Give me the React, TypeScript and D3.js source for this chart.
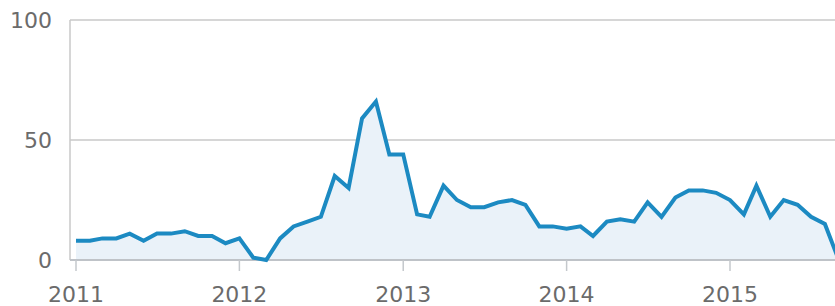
import React from 'react';
import * as d3 from 'd3';

// monthly interest, Jan 2011 .. Sep 2015
const startMonth = new Date(2011, 0, 1);
const values2011 = [8, 8, 9, 9, 11, 8, 11, 11, 12, 10, 10, 7];
const values2012 = [9, 1, 0, 9, 14, 16, 18, 35, 30, 59, 66, 44];
const values2013 = [44, 19, 18, 31, 25, 22, 22, 24, 25, 23, 14, 14];
const values2014 = [13, 14, 10, 16, 17, 16, 24, 18, 26, 29, 29, 28];
const values2015 = [25, 19, 31, 18, 25, 23, 18, 15, 0];

const yTicks = [0, 50, 100];
const yearTicks = [2011, 2012, 2013, 2014, 2015];

const series = [...values2011, ...values2012, ...values2013, ...values2014, ...values2015];
const points = series.map((v, i) => ({
  date: new Date(startMonth.getFullYear(), startMonth.getMonth() + i, 1),
  value: v,
}));

const W = 835;
const H = 306;
const left = 70;
const font = '"DejaVu Sans", Verdana, sans-serif';

const App = () => {
  const x = d3.scaleTime()
    .domain([new Date(2011, 0, 1), new Date(2015, 0, 1)])
    .range([76, 730]);
  const y = d3.scaleLinear().domain([0, 100]).range([260, 20]);

  const line = d3.line<{ date: Date; value: number }>()
    .x((d) => x(d.date))
    .y((d) => y(d.value));
  const area = d3.area<{ date: Date; value: number }>()
    .x((d) => x(d.date))
    .y0(y(0))
    .y1((d) => y(d.value));

  return (
    <svg width={W} height={H} style={{ position: 'absolute', left: 0, top: 0, background: '#fff' }}>
      {yTicks.map((t) => (
        <g key={t}>
          {t > 0 && (
            <line x1={left} x2={W} y1={y(t)} y2={y(t)} stroke="#c9c9c9" strokeWidth={1.5} />
          )}
          <text x={52} y={y(t)} dy="0.36em" textAnchor="end" fontFamily={font} fontSize={22} fill="#6b6b6b">
            {t}
          </text>
        </g>
      ))}
      <path d={area(points) || ''} fill="#eaf2f9" />
      <line x1={left} x2={left} y1={y(100)} y2={y(0)} stroke="#c9c9c9" strokeWidth={1.5} />
      <line x1={left} x2={W} y1={y(0)} y2={y(0)} stroke="#bfc3c8" strokeWidth={2} />
      {yearTicks.map((yr) => {
        const px = x(new Date(yr, 0, 1));
        return (
          <g key={yr}>
            <line x1={px} x2={px} y1={y(0)} y2={y(0) + 11} stroke="#c4c8cc" strokeWidth={1.5} />
            <text x={px} y={302} textAnchor="middle" fontFamily={font} fontSize={22} fill="#6b6b6b">
              {yr}
            </text>
          </g>
        );
      })}
      <path
        d={line(points) || ''}
        fill="none"
        stroke="#1c8ac2"
        strokeWidth={4}
        strokeLinejoin="miter"
        strokeMiterlimit={3}
      />
    </svg>
  );
};

export default App;
